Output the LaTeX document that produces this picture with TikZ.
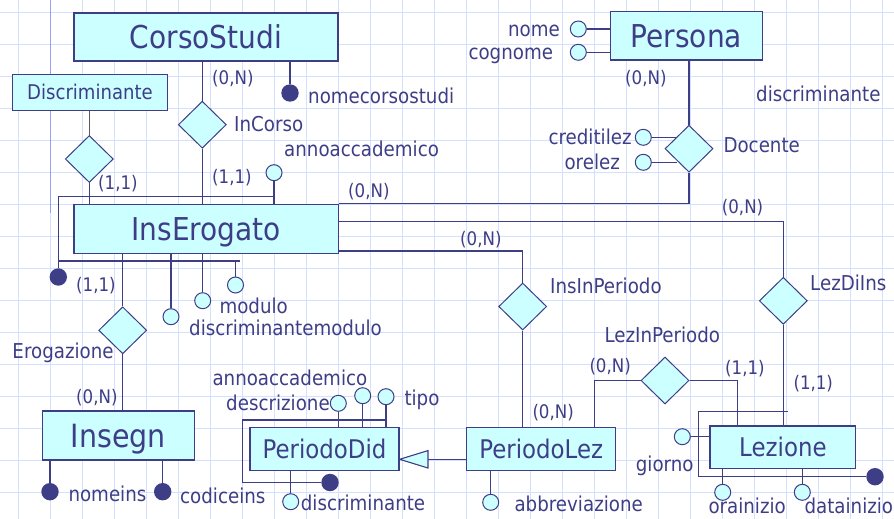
\documentclass[tikz,border=0pt]{standalone}
\usepackage{fontspec}
\setmainfont{DejaVu Sans}[FakeStretch=0.89]
\usetikzlibrary{shapes.geometric}
\definecolor{navy}{RGB}{62,62,135}
\definecolor{cyanfill}{RGB}{204,255,255}
\definecolor{gridblue}{RGB}{212,224,255}
\definecolor{railblue}{RGB}{150,160,245}
\definecolor{darkline}{RGB}{90,90,100}
\pgfdeclarelayer{gridlayer}
\pgfdeclarelayer{bg}
\pgfsetlayers{gridlayer,bg,main}
\begin{document}
\begin{tikzpicture}[x=1pt,y=-1pt,
  ent/.style={draw=navy, line width=1.3pt, fill=cyanfill, text=navy, inner sep=0pt,
    text height=23pt, text depth=0pt, font=\fontsize{31.5}{36}\selectfont},
  mident/.style={ent, text height=18.8pt, font=\fontsize{25.7}{30}\selectfont},
  rel/.style={diamond, draw=navy, line width=1pt, fill=cyanfill, minimum width=48pt,
    minimum height=47pt, inner sep=0pt},
  att/.style={circle, draw=navy, line width=1pt, fill=cyanfill, minimum size=16pt, inner sep=0pt},
  keyatt/.style={circle, fill=navy, minimum size=17.4pt, inner sep=0pt},
  conn/.style={draw=navy, line width=1.1pt},
  lbl/.style={text=navy, inner sep=0pt, anchor=west, text height=14.4pt, text depth=0pt,
    font=\fontsize{20.5}{24}\selectfont},
  card/.style={lbl, text height=13.1pt, font=\fontsize{18.7}{22}\selectfont}
]
\useasboundingbox (0,0) rectangle (894,519);
\begin{pgfonlayer}{gridlayer}
  \fill[white] (0,0) rectangle (894,519);
  \foreach \i in {0,...,27} \draw[gridblue, line width=1.3pt] (18.3+32*\i,0) -- (18.3+32*\i,519);
  \foreach \j in {0,...,15} \draw[gridblue, line width=1.3pt] (0,12.7+32*\j) -- (894,12.7+32*\j);
  \draw[railblue, line width=1.3pt] (50.5,0) -- (50.5,213);
\end{pgfonlayer}

% entities
\node[ent, minimum width=264pt, minimum height=48pt] (cs) at (206,37) {CorsoStudi};
\node[ent, minimum width=152pt, minimum height=48.3pt] (pers) at (686.3,35.8) {Persona};
\node[ent, text height=14.8pt, font=\fontsize{20.3}{24}\selectfont, minimum width=155.4pt, minimum height=35.6pt] (disc) at (90,92.5) {Discriminante};
\node[ent, minimum width=264.3pt, minimum height=49pt] (ins) at (206.2,228.8) {InsErogato};
\node[ent, text height=23.4pt, font=\fontsize{32}{36}\selectfont, minimum width=152pt, minimum height=49pt] (insegn) at (118.3,435.5) {Insegn};
\node[mident, minimum width=149pt, minimum height=42.6pt] (pdid) at (324.5,449) {PeriodoDid};
\node[mident, minimum width=149pt, minimum height=42.6pt] (plez) at (541.2,449) {PeriodoLez};
\node[mident, minimum width=145.7pt, minimum height=42.3pt] (lez) at (782.9,447.2) {Lezione};

% relationships
\node[rel] (rdisc) at (89.3,159) {};
\node[rel] (incorso) at (202.3,124.7) {};
\node[rel] (docente) at (689,148.7) {};
\node[rel] (eroga) at (122.7,330.3) {};
\node[rel] (insper) at (522.7,306.5) {};
\node[rel] (lezdiins) at (783.3,300.8) {};
\node[rel] (lezper) at (665,380.5) {};

% attributes
\node[keyatt] (cskey) at (290,93) {};
\node[att] (aa) at (274,172.7) {};
\node[att] (nome) at (578.3,29) {};
\node[att] (cognome) at (578.3,52.3) {};
\node[att] (credit) at (643.3,137.3) {};
\node[att] (orelez) at (643.3,162.3) {};
\node[keyatt] (inskey) at (58.3,277) {};
\node[att] (ia1) at (171,316.7) {};
\node[att] (ia2) at (202.7,300.7) {};
\node[att] (ia3) at (235.5,285) {};
\node[keyatt] (ik1) at (50,491.7) {};
\node[keyatt] (ik2) at (162.7,491.7) {};
\node[att] (desc) at (338.3,403.3) {};
\node[att] (pa) at (362.7,395.7) {};
\node[att] (tipo) at (386,396.7) {};
\node[keyatt] (pdkey) at (330,482.5) {};
\node[att] (pdisc) at (290.7,501.7) {};
\node[att] (abbr) at (490.7,502.3) {};
\node[att] (giorno) at (682.3,436.7) {};
\node[att] (orai) at (722.7,492.3) {};
\node[att] (datai) at (802.3,492.3) {};
\node[keyatt] (lezkey) at (875,476.7) {};

% connectors
\coordinate (k1) at (58.3,196.5);
\coordinate (k2) at (240,261);
\coordinate (j1) at (783.3,221.7);
\coordinate (j2) at (522.7,251);
\coordinate (j3) at (594.3,380.5);
\coordinate (j4) at (737.3,380.5);
\coordinate (k3) at (698.3,411.7);
\coordinate (k4) at (787.7,411.7);
\coordinate (k5) at (242.7,420);
\coordinate (isa) at (427.3,459.3);
\begin{pgfonlayer}{bg}
  \draw[conn] (incorso.north) -- (incorso.north |- cs.south);
  \draw[conn] (incorso.south) -- (incorso.south |- ins.north);
  \draw[conn] (cskey.north) -- (cskey.north |- cs.south);
  \draw[draw=darkline, line width=1.1pt] (rdisc.north) -- (rdisc.north |- disc.south);
  \draw[conn] (rdisc.south) -- (rdisc.south |- ins.north);
  \draw[conn] (aa.south) -- (aa.south |- ins.north);
  \draw[conn] (inskey.north) -- (k1) -- (k1 -| aa.south);
  \draw[conn] (k2 -| k1) -- (k2);
  \draw[conn] (ia3.north) -- (ia3.north |- k2);
  \draw[conn] (ia1.north) -- (ia1.north |- ins.south);
  \draw[conn] (ia2.north) -- (ia2.north |- ins.south);
  \draw[conn] (eroga.north) -- (eroga.north |- ins.south);
  \draw[conn] (eroga.south) -- (eroga.south |- insegn.north);
  \draw[conn] (ik1.north) -- (ik1.north |- insegn.south);
  \draw[conn] (ik2.north) -- (ik2.north |- insegn.south);
  \draw[conn] (nome.east) -- (nome.east -| pers.west);
  \draw[conn] (cognome.east) -- (cognome.east -| pers.west);
  \draw[conn] (docente.north) -- (docente.north |- pers.south);
  \draw[conn] (credit.east) -- (credit.east -| docente.north west);
  \draw[conn] (orelez.east) -- (orelez.east -| docente.south west);
  \draw[conn] (docente.south) |- (ins.north east);
  \draw[conn] (ins.east |- j1) -- (j1) -- (lezdiins.north);
  \draw[conn] (ins.east |- j2) -- (j2) -- (insper.north);
  \draw[conn] (insper.south) -- (insper.south |- plez.north);
  \draw[conn] (j3 |- plez.north) -- (j3) -- (lezper.west);
  \draw[conn] (lezper.east) -- (j4) -- (j4 |- lez.north);
  \draw[conn] (lezdiins.south) -- (lezdiins.south |- lez.north);
  \draw[conn] (giorno.east) -- (giorno.east -| lez.west);
  \draw[conn] (orai.north) -- (orai.north |- lez.south);
  \draw[conn] (datai.north) -- (datai.north |- lez.south);
  \draw[conn] (k4) -- (k3) |- (lezkey.west);
  \draw[conn] (desc.south) -- (desc.south |- pdid.north);
  \draw[conn] (pa.south) -- (pa.south |- pdid.north);
  \draw[conn] (tipo.south) -- (tipo.south |- pdid.north);
  \draw[conn] (tipo.south |- k5) -- (k5) |- (pdkey.west);
  \draw[conn] (pdisc.north) -- (pdisc.north |- pdid.south);
  \draw[conn] (abbr.north) -- (abbr.north |- plez.south);
  \draw[conn] (isa) -- (isa -| plez.west);
\end{pgfonlayer}
\draw[conn, fill=cyanfill] (isa -| pdid.east) -- ++(28.3,-8.7) -- ++(0,17.4) -- cycle;

% labels
\node[lbl] (t1) at (308,96) {nomecorsostudi};
\node[lbl] (t2) at (234,124) {InCorso};
\node[lbl] (t3) at (284,149) {annoaccademico};
\node[lbl, anchor=east] (t4) at (560,29) {nome};
\node[lbl] (t5) at (468.3,52) {cognome};
\node[lbl] (t6) at (756,94) {discriminante};
\node[lbl] (t7) at (548.3,137) {creditilez};
\node[lbl] (t8) at (564.3,162) {orelez};
\node[lbl] (t9) at (723.3,145.7) {Docente};
\node[lbl] (t10) at (550,286) {InsInPeriodo};
\node[lbl] (t11) at (810,283.3) {LezDiIns};
\node[lbl] (t12) at (604.3,335) {LezInPeriodo};
\node[lbl] (t13) at (219.3,306) {modulo};
\node[lbl] (t14) at (189,328.3) {discriminantemodulo};
\node[lbl] (t15) at (12.3,351.7) {Erogazione};
\node[lbl] (t16) at (68.3,494) {nomeins};
\node[lbl] (t17) at (180,496) {codiceins};
\node[lbl] (t18) at (212.3,378.3) {annoaccademico};
\node[lbl] (t19) at (226,403.3) {descrizione};
\node[lbl] (t20) at (404.3,398.3) {tipo};
\node[lbl] (t21) at (300.7,503.3) {discriminante};
\node[lbl] (t22) at (514.3,504) {abbreviazione};
\node[lbl] (t23) at (635.7,464) {giorno};
\node[lbl] (t24) at (708.3,506) {orainizio};
\node[lbl] (t25) at (804.3,506) {datainizio};

% cardinalities
\node[card] (c1) at (212,78) {(0,N)};
\node[card] (c2) at (98,183) {(1,1)};
\node[card] (c3) at (212,176.7) {(1,1)};
\node[card] (c4) at (625,78.3) {(0,N)};
\node[card] (c5) at (348,190.5) {(0,N)};
\node[card] (c6) at (721.7,206.7) {(0,N)};
\node[card] (c7) at (460,239.3) {(0,N)};
\node[card] (c8) at (76,285) {(1,1)};
\node[card] (c9) at (76,397.3) {(0,N)};
\node[card] (c10) at (532.3,411.7) {(0,N)};
\node[card] (c11) at (589.3,366) {(0,N)};
\node[card] (c12) at (725,367.7) {(1,1)};
\node[card] (c13) at (793.3,383.3) {(1,1)};
\end{tikzpicture}
\end{document}
